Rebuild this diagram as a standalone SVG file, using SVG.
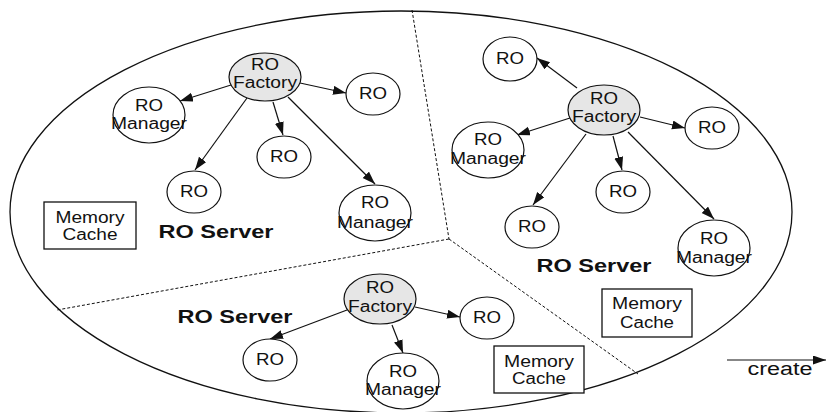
<svg xmlns="http://www.w3.org/2000/svg" width="826" height="412" viewBox="0 0 826 412">
  <style>
    .t { font-family: "Liberation Sans", Arial, Helvetica, sans-serif; font-size: 16px; fill: #111; text-anchor: middle; }
    .srv { font-family: "Liberation Sans", Arial, Helvetica, sans-serif; font-size: 19px; font-weight: bold; fill: #111; text-anchor: middle; }
    .node { fill: #fff; stroke: #111; stroke-width: 1.2; }
    .fac { fill: #e6e6e6; stroke: #111; stroke-width: 1.2; }
    .box { fill: #fff; stroke: #111; stroke-width: 1.3; }
    .edge { stroke: #111; stroke-width: 1.2; fill: none; marker-end: url(#ah); }
    .div { stroke: #111; stroke-width: 1; fill: none; stroke-dasharray: 3 2; }
  </style>
  <defs>
    <marker id="ah" markerUnits="userSpaceOnUse" markerWidth="14" markerHeight="10" refX="13" refY="4.5" orient="auto">
      <path d="M0,0 L13,4.5 L0,9 z" fill="#111"/>
    </marker>
  </defs>
  <rect width="826" height="412" fill="#fff"/>

  <!-- outer system boundary -->
  <ellipse cx="401" cy="212" rx="391" ry="201" fill="none" stroke="#111" stroke-width="1.3"/>

  <!-- partitions between the three servers -->
  <g id="partitions">
    <path class="div" d="M412,10 L449,239"/>
    <path class="div" d="M449,239 L57,310" stroke-dasharray="4 2" stroke-width="1.2"/>
    <path class="div" d="M449,239 L638,374"/>
  </g>

  <!-- connectors -->
  <g id="connectors">
    <!-- left server -->
    <line class="edge" x1="231" y1="85" x2="180" y2="101"/>
    <line class="edge" x1="300" y1="83" x2="346" y2="93"/>
    <line class="edge" x1="273" y1="102" x2="283" y2="135"/>
    <line class="edge" x1="247" y1="98" x2="195" y2="170"/>
    <line class="edge" x1="288" y1="97" x2="375" y2="184"/>
    <!-- right server -->
    <line class="edge" x1="577" y1="88" x2="537" y2="58"/>
    <line class="edge" x1="570" y1="118" x2="517" y2="135"/>
    <line class="edge" x1="640" y1="117" x2="685" y2="128"/>
    <line class="edge" x1="613" y1="136" x2="622" y2="170"/>
    <line class="edge" x1="586" y1="134" x2="533" y2="205"/>
    <line class="edge" x1="628" y1="132" x2="714" y2="219"/>
    <!-- bottom server -->
    <line class="edge" x1="347" y1="310" x2="270" y2="339"/>
    <line class="edge" x1="415" y1="307" x2="460" y2="317"/>
    <line class="edge" x1="392" y1="325" x2="403" y2="353"/>
  </g>

  <!-- left server -->
  <g id="left-factory">
    <ellipse class="fac" cx="265" cy="77" rx="36" ry="24"/>
    <text class="t" x="265" y="70" textLength="28" lengthAdjust="spacingAndGlyphs">RO</text>
    <text class="t" x="265" y="88" textLength="64" lengthAdjust="spacingAndGlyphs">Factory</text>
  </g>
  <g id="left-manager-1">
    <ellipse class="node" cx="149" cy="115" rx="36" ry="28"/>
    <text class="t" x="149" y="111" textLength="28" lengthAdjust="spacingAndGlyphs">RO</text>
    <text class="t" x="149" y="129" textLength="76" lengthAdjust="spacingAndGlyphs">Manager</text>
  </g>
  <g id="left-ro-1">
    <ellipse class="node" cx="373" cy="94" rx="27" ry="21"/>
    <text class="t" x="373" y="99" textLength="28" lengthAdjust="spacingAndGlyphs">RO</text>
  </g>
  <g id="left-ro-2">
    <ellipse class="node" cx="284" cy="157" rx="27" ry="21"/>
    <text class="t" x="284" y="162" textLength="28" lengthAdjust="spacingAndGlyphs">RO</text>
  </g>
  <g id="left-ro-3">
    <ellipse class="node" cx="194" cy="192" rx="27" ry="21"/>
    <text class="t" x="194" y="197" textLength="28" lengthAdjust="spacingAndGlyphs">RO</text>
  </g>
  <g id="left-manager-2">
    <ellipse class="node" cx="375" cy="213" rx="36" ry="28"/>
    <text class="t" x="375" y="208" textLength="28" lengthAdjust="spacingAndGlyphs">RO</text>
    <text class="t" x="375" y="228" textLength="76" lengthAdjust="spacingAndGlyphs">Manager</text>
  </g>
  <g id="left-cache">
    <rect class="box" x="44" y="202" width="92" height="47"/>
    <text class="t" x="90" y="223" textLength="69" lengthAdjust="spacingAndGlyphs">Memory</text>
    <text class="t" x="90" y="240" textLength="55" lengthAdjust="spacingAndGlyphs">Cache</text>
  </g>
  <text class="srv" x="216" y="238" textLength="115" lengthAdjust="spacingAndGlyphs">RO Server</text>

  <!-- right server -->
  <g id="right-factory">
    <ellipse class="fac" cx="604" cy="110" rx="36" ry="25"/>
    <text class="t" x="604" y="104" textLength="28" lengthAdjust="spacingAndGlyphs">RO</text>
    <text class="t" x="604" y="122" textLength="64" lengthAdjust="spacingAndGlyphs">Factory</text>
  </g>
  <g id="right-ro-1">
    <ellipse class="node" cx="510" cy="59" rx="27" ry="22"/>
    <text class="t" x="510" y="64" textLength="28" lengthAdjust="spacingAndGlyphs">RO</text>
  </g>
  <g id="right-manager-1">
    <ellipse class="node" cx="488" cy="150" rx="36" ry="28"/>
    <text class="t" x="488" y="145" textLength="28" lengthAdjust="spacingAndGlyphs">RO</text>
    <text class="t" x="488" y="164" textLength="76" lengthAdjust="spacingAndGlyphs">Manager</text>
  </g>
  <g id="right-ro-2">
    <ellipse class="node" cx="712" cy="128" rx="27" ry="21"/>
    <text class="t" x="712" y="133" textLength="28" lengthAdjust="spacingAndGlyphs">RO</text>
  </g>
  <g id="right-ro-3">
    <ellipse class="node" cx="623" cy="192" rx="27" ry="21"/>
    <text class="t" x="623" y="197" textLength="28" lengthAdjust="spacingAndGlyphs">RO</text>
  </g>
  <g id="right-ro-4">
    <ellipse class="node" cx="532" cy="227" rx="27" ry="21"/>
    <text class="t" x="532" y="232" textLength="28" lengthAdjust="spacingAndGlyphs">RO</text>
  </g>
  <g id="right-manager-2">
    <ellipse class="node" cx="714" cy="248" rx="36" ry="28"/>
    <text class="t" x="714" y="244" textLength="28" lengthAdjust="spacingAndGlyphs">RO</text>
    <text class="t" x="714" y="263" textLength="76" lengthAdjust="spacingAndGlyphs">Manager</text>
  </g>
  <g id="right-cache">
    <rect class="box" x="602" y="289" width="90" height="48"/>
    <text class="t" x="647" y="309" textLength="70" lengthAdjust="spacingAndGlyphs">Memory</text>
    <text class="t" x="647" y="328" textLength="54" lengthAdjust="spacingAndGlyphs">Cache</text>
  </g>
  <text class="srv" x="594" y="272" textLength="115" lengthAdjust="spacingAndGlyphs">RO Server</text>

  <!-- bottom server -->
  <g id="bottom-factory">
    <ellipse class="fac" cx="380" cy="299" rx="36" ry="25"/>
    <text class="t" x="380" y="293" textLength="28" lengthAdjust="spacingAndGlyphs">RO</text>
    <text class="t" x="380" y="312" textLength="64" lengthAdjust="spacingAndGlyphs">Factory</text>
  </g>
  <g id="bottom-ro-1">
    <ellipse class="node" cx="487" cy="318" rx="27" ry="21"/>
    <text class="t" x="487" y="323" textLength="28" lengthAdjust="spacingAndGlyphs">RO</text>
  </g>
  <g id="bottom-ro-2">
    <ellipse class="node" cx="270" cy="360" rx="27" ry="21"/>
    <text class="t" x="270" y="365" textLength="28" lengthAdjust="spacingAndGlyphs">RO</text>
  </g>
  <g id="bottom-manager">
    <ellipse class="node" cx="403" cy="381" rx="36" ry="28"/>
    <text class="t" x="403" y="377" textLength="28" lengthAdjust="spacingAndGlyphs">RO</text>
    <text class="t" x="403" y="395" textLength="76" lengthAdjust="spacingAndGlyphs">Manager</text>
  </g>
  <g id="bottom-cache">
    <rect class="box" x="494" y="346" width="90" height="47"/>
    <text class="t" x="539" y="367" textLength="70" lengthAdjust="spacingAndGlyphs">Memory</text>
    <text class="t" x="539" y="384" textLength="54" lengthAdjust="spacingAndGlyphs">Cache</text>
  </g>
  <text class="srv" x="235" y="323" textLength="115" lengthAdjust="spacingAndGlyphs">RO Server</text>

  <!-- legend -->
  <g id="legend">
    <line x1="727" y1="360" x2="826" y2="360" stroke="#111" stroke-width="1.2" marker-end="url(#ah)"/>
    <text class="t" x="780" y="375" style="font-size:18px" textLength="65" lengthAdjust="spacingAndGlyphs">create</text>
  </g>
</svg>
